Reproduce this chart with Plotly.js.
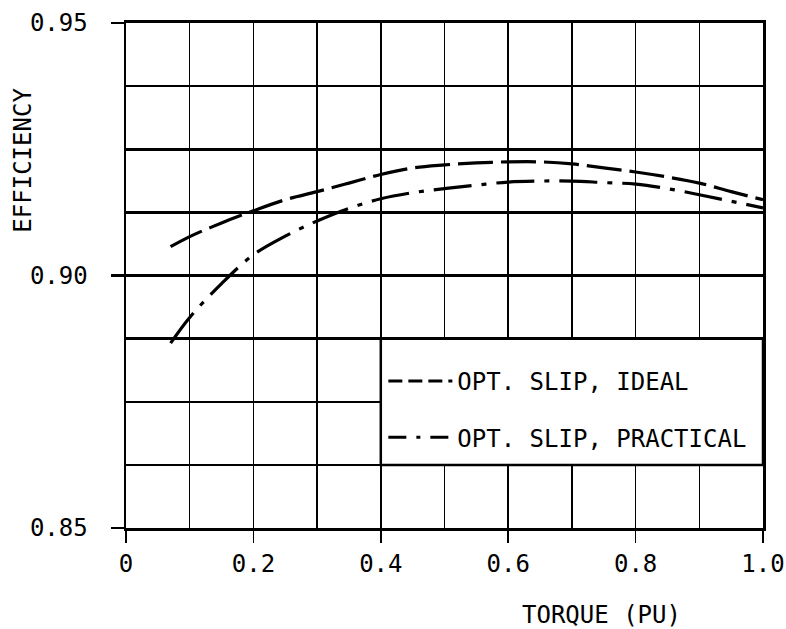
<!DOCTYPE html>
<html>
<head>
<meta charset="utf-8">
<script src="https://cdn.plot.ly/plotly-3.0.1.min.js"></script>
<style>html,body{margin:0;padding:0;background:#fff;}#chart{width:786px;height:629px;}</style>
</head>
<body>
<div id="chart"></div>
<script>
// ---- data ----
var torque = [0.07, 0.1, 0.15, 0.2, 0.25, 0.3, 0.35, 0.4, 0.45, 0.5, 0.55, 0.6, 0.65, 0.7, 0.75, 0.8, 0.85, 0.9, 0.95, 1.0];
var effIdeal = [0.9057, 0.9077, 0.9104, 0.9128, 0.9150, 0.9166, 0.9183, 0.9200, 0.9213, 0.9219, 0.9223, 0.9225, 0.9225, 0.9221, 0.9213, 0.9205, 0.9195, 0.9183, 0.9166, 0.9150];
var effPractical = [0.8866, 0.8917, 0.8984, 0.9041, 0.9078, 0.9108, 0.9133, 0.9152, 0.9164, 0.9172, 0.9179, 0.9185, 0.9187, 0.9187, 0.9184, 0.9181, 0.9172, 0.9160, 0.9147, 0.9134];
var seriesNames = ["OPT. SLIP, IDEAL", "OPT. SLIP, PRACTICAL"];
var xTickVals = [0, 0.2, 0.4, 0.6, 0.8, 1.0];
var xTickText = ["0", "0.2", "0.4", "0.6", "0.8", "1.0"];
var yTickVals = [0.85, 0.90, 0.95];
var yTickText = ["0.85", "0.90", "0.95"];
var xTitle = "TORQUE (PU)";
var yTitle = "EFFICIENCY";

var FONT = "DejaVu Sans Mono, monospace";
var FS = 24;

var traces = [
  {x: torque, y: effIdeal, mode: "lines", line: {color: "#000", width: 3.2, dash: "35px,8px", shape: "spline"}, showlegend: false, hoverinfo: "skip"},
  {x: torque, y: effPractical, mode: "lines", line: {color: "#000", width: 3.2, dash: "38px,10px,5px,10px", shape: "spline"}, showlegend: false, hoverinfo: "skip"},
  // legend entries (short-dash samples as in the reference key)
  {x: [null], y: [null], mode: "lines", name: seriesNames[0], legendgroup: "a", line: {color: "#000", width: 3, dash: "14px,6px"}},
  {x: [null], y: [null], mode: "lines", name: seriesNames[1], legendgroup: "b", line: {color: "#000", width: 3, dash: "18px,10px,4px,10px"}}
];

var layout = {
  width: 786, height: 629,
  margin: {l: 126, r: 23, t: 23, b: 101},
  paper_bgcolor: "#fff", plot_bgcolor: "#fff",
  font: {family: FONT, size: FS, color: "#000"},
  xaxis: {
    range: [0, 1], tickmode: "array", tickvals: xTickVals, ticktext: xTickText,
    ticks: "outside", ticklen: 12, tickwidth: 1.5, tickcolor: "#000",
    showgrid: true, gridcolor: "#000", gridwidth: 1.5,
    minor: {tickmode: "linear", tick0: 0, dtick: 0.1, showgrid: true, gridcolor: "#000", gridwidth: 1.5, ticks: ""},
    showline: true, linecolor: "#000", linewidth: 3, mirror: true,
    zeroline: false, ticklabelstandoff: 0,
    tickfont: {family: FONT, size: FS}
  },
  yaxis: {
    range: [0.85, 0.95], tickmode: "array", tickvals: yTickVals, ticktext: yTickText,
    ticks: "outside", ticklen: 13, tickwidth: 2.5, tickcolor: "#000",
    showgrid: true, gridcolor: "#000", gridwidth: 2.5,
    minor: {tickmode: "linear", tick0: 0.85, dtick: 0.0125, showgrid: true, gridcolor: "#000", gridwidth: 2.5, ticks: ""},
    showline: true, linecolor: "#000", linewidth: 2.5, mirror: true,
    zeroline: false, ticklabelstandoff: 18,
    tickfont: {family: FONT, size: FS}
  },
  shapes: [
    {type: "rect", xref: "x", yref: "y", x0: 0.4, x1: 1.0, y0: 0.8625, y1: 0.8875,
     fillcolor: "#fff", line: {color: "#000", width: 2.5}, layer: "between"}
  ],
  legend: {
    x: 0.404, xanchor: "left", y: 0.335, yanchor: "top",
    bgcolor: "rgba(0,0,0,0)", borderwidth: 0,
    itemwidth: 64, tracegroupgap: 22,
    font: {family: FONT, size: FS, color: "#000"}
  },
  annotations: [
    {text: xTitle, xref: "paper", yref: "paper", x: 0.747, y: -0.172, showarrow: false,
     xanchor: "center", yanchor: "middle", borderpad: 0, font: {family: FONT, size: FS}},
    {text: yTitle, xref: "paper", yref: "paper", x: -0.162, y: 0.729, showarrow: false,
     textangle: -90, xanchor: "center", yanchor: "middle", font: {family: FONT, size: FS}}
  ]
};

Plotly.newPlot("chart", traces, layout, {displayModeBar: false, staticPlot: true});
</script>
</body>
</html>
